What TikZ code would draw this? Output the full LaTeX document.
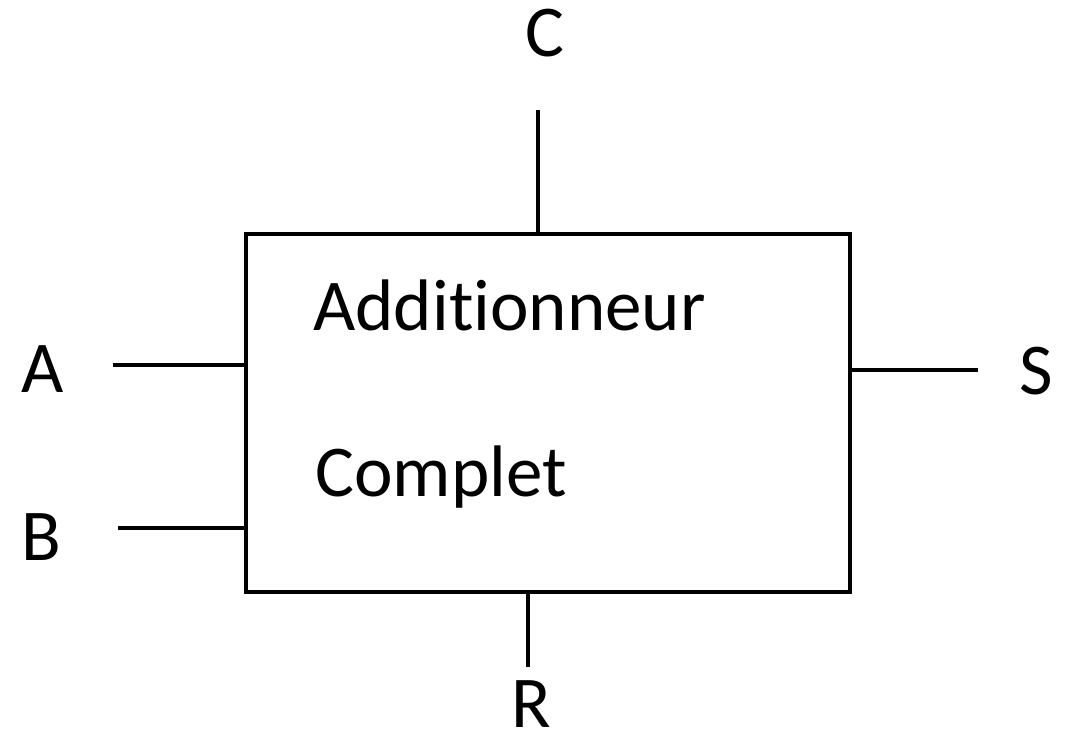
\documentclass[tikz,border=0pt]{standalone}
\usepackage{fontspec}
\setmainfont{Carlito}[Ligatures=NoCommon]
\usepackage{tikz}

\tikzset{
  pin/.style={line width=1.6pt},
  pinlabel/.style={anchor=base, inner sep=0pt, font=\fontsize{36.5}{40}\selectfont},
  boxtext/.style={anchor=base west, inner sep=0pt, font=\fontsize{36.5}{40}\selectfont}
}

\begin{document}
\begin{tikzpicture}[x=0.5pt, y=-0.5pt]
  % Page size
  \useasboundingbox (0,0) rectangle (1076,731);

  % Block
  \node[draw, line width=2pt, minimum width=302pt, minimum height=179pt, inner sep=0pt] (adder) at (548,413) {};
  \node[boxtext] (line1) at (313,331) {Additionneur};
  \node[boxtext] (line2) at (315,497) {Complet};

  % Free ends of the connectors
  \coordinate (aend) at (113,365);
  \coordinate (bend) at (118,528);
  \coordinate (cend) at (538,110);
  \coordinate (send) at (978,370);
  \coordinate (rend) at (528,667);

  % Connectors
  \draw[pin] (aend) -- (aend -| adder.west);
  \draw[pin] (bend) -- (bend -| adder.west);
  \draw[pin] (cend) -- (cend |- adder.north);
  \draw[pin] (send) -- (send -| adder.east);
  \draw[pin] (rend) -- (rend |- adder.south);

  % Labels
  \node[pinlabel] (a) at (43,393) {A};
  \node[pinlabel] (b) at (41,561) {B};
  \node[pinlabel] (c) at (545,57) {C};
  \node[pinlabel] (s) at (1036,395) {S};
  \node[pinlabel] (r) at (531,727) {R};
\end{tikzpicture}
\end{document}
